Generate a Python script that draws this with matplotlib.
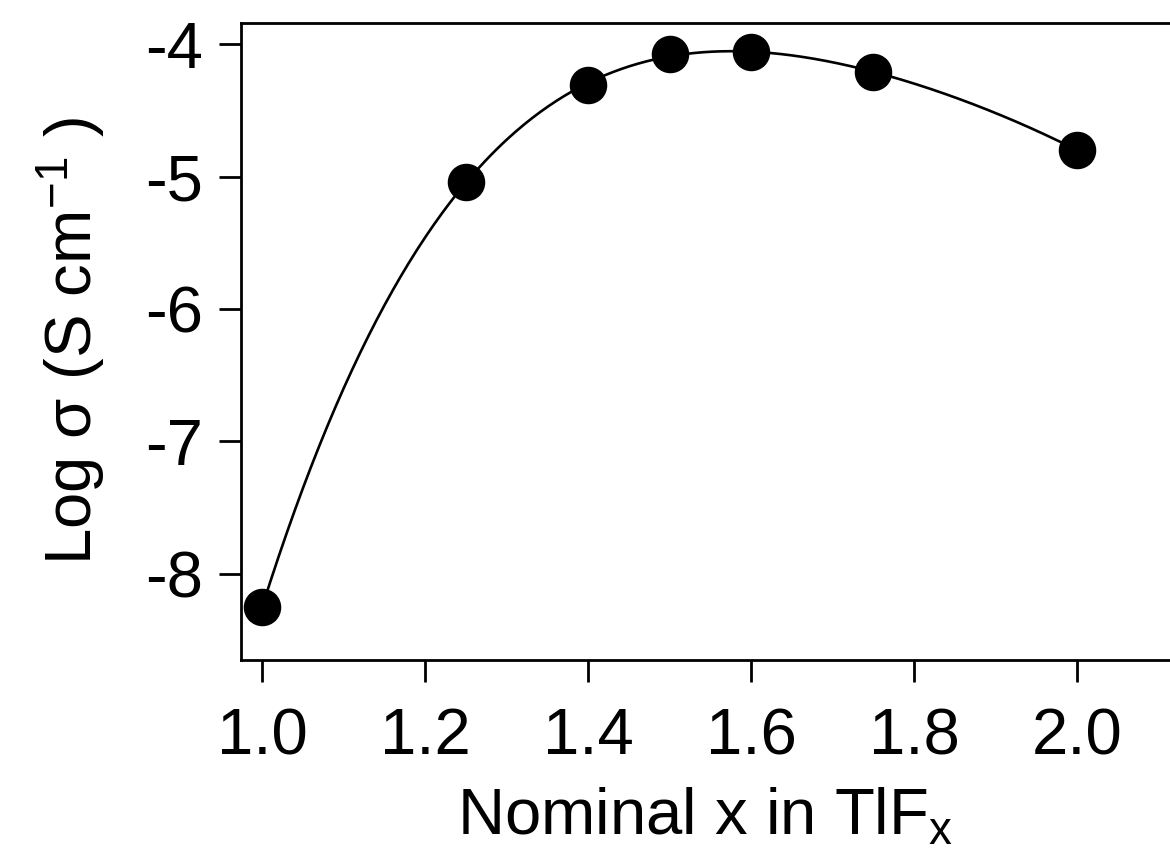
import numpy as np
import matplotlib
matplotlib.use("Agg")
import matplotlib.pyplot as plt

plt.rcParams['font.family'] = ['Liberation Sans', 'DejaVu Sans']
plt.rcParams['mathtext.default'] = 'regular'
plt.rcParams['axes.unicode_minus'] = False

x_vals = [1.0, 1.25, 1.4, 1.5, 1.6, 1.75, 2.0]
log_sigma = [-8.25, -5.04, -4.31, -4.075, -4.06, -4.21, -4.80]
xticks = [1.0, 1.2, 1.4, 1.6, 1.8, 2.0]
yticks = [-8, -7, -6, -5, -4]

fig = plt.figure(figsize=(11.7, 8.55), dpi=100)
ax = fig.add_axes([241 / 1170, 1 - 660 / 855, (1170 - 241) / 1170, (660 - 23) / 855])

# smooth fitted curve through the data (polynomial fit)
coef = np.polyfit(x_vals, log_sigma, 4)
xs = np.linspace(min(x_vals), max(x_vals), 400)
ax.plot(xs, np.polyval(coef, xs), color='black', lw=1.9, zorder=2)
ax.plot(x_vals, log_sigma, 'o', color='black', ms=26, zorder=3)

ax.set_xlim(0.974, 2.114)
ax.set_ylim(-8.65, -3.84)
ax.set_xticks(xticks)
ax.set_xticklabels([f"{v:.1f}" for v in xticks])
ax.set_yticks(yticks)
ax.set_yticklabels([str(v) for v in yticks])

for s in ['left', 'bottom', 'top']:
    ax.spines[s].set_linewidth(2)
ax.spines['right'].set_visible(False)
ax.tick_params(direction='out', length=16, width=2, labelsize=47)
ax.tick_params(axis='x', pad=18)
ax.tick_params(axis='y', pad=11)

ax.set_xlabel('Nominal x in TlF$_{x}$', fontsize=47, labelpad=14)
ax.set_ylabel('Log σ (S cm$^{-1}$ )', fontsize=47, labelpad=27)

fig.savefig('out.png', dpi=100)
